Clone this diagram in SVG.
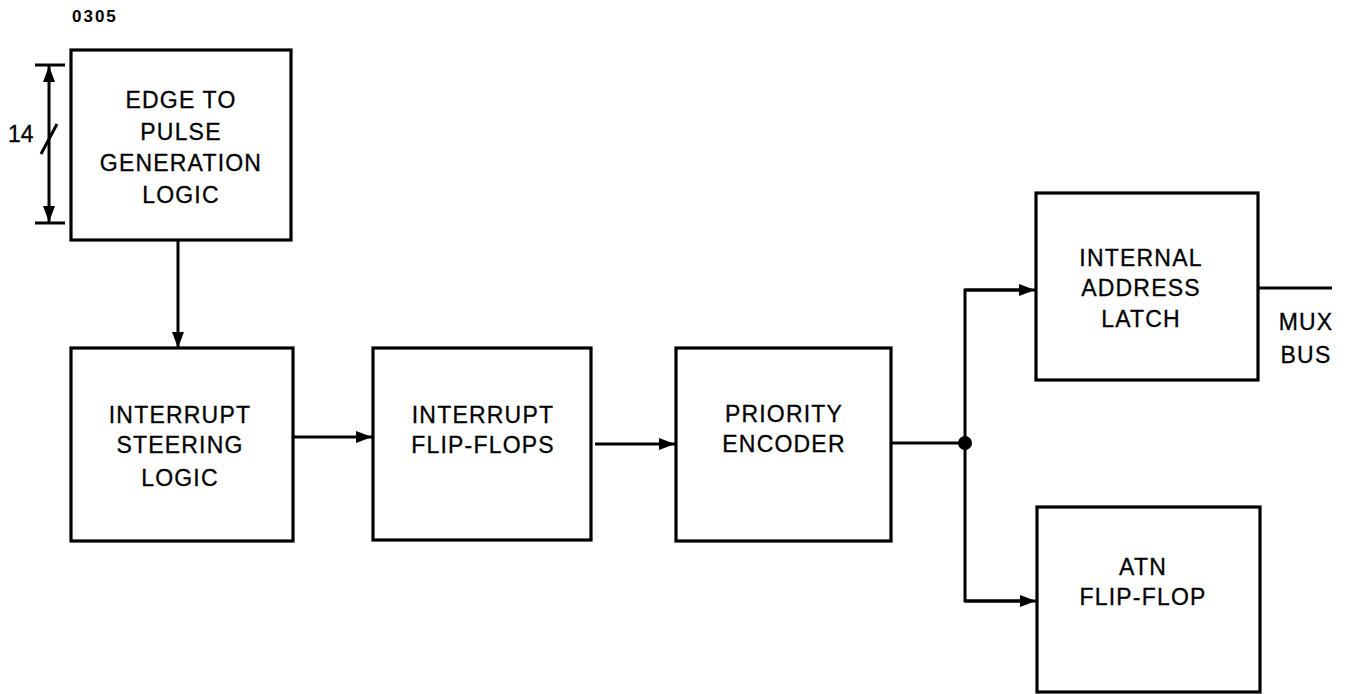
<svg xmlns="http://www.w3.org/2000/svg" width="1346" height="694" viewBox="0 0 1346 694">
<defs>
<style>
.box{fill:#fff;stroke:#000;stroke-width:3.2}
.ln{fill:none;stroke:#000;stroke-width:3}
.t{font-family:"Liberation Sans",Arial,sans-serif;font-size:23px;letter-spacing:1.2px;text-anchor:middle;fill:#000;stroke:#000;stroke-width:0.3}
.lbl{font-family:"Liberation Sans",Arial,sans-serif;font-size:23px;fill:#000;stroke:#000;stroke-width:0.3}
</style>
<marker id="ah" viewBox="0 0 16 12" refX="16" refY="6" markerWidth="16" markerHeight="12" markerUnits="userSpaceOnUse" orient="auto">
<path d="M0,0 L16,6 L0,12 Z" fill="#000"/>
</marker>
</defs>
<rect width="1346" height="694" fill="#fff"/>
<text x="72" y="22" font-family="Liberation Sans,Arial,sans-serif" font-weight="bold" font-size="17" letter-spacing="2">0305</text>

<g id="connectors">
<line class="ln" x1="49" y1="150" x2="49" y2="66" marker-end="url(#ah)"/>
<line class="ln" x1="49" y1="150" x2="49" y2="222" marker-end="url(#ah)"/>
<line class="ln" x1="35" y1="65" x2="65" y2="65"/>
<line class="ln" x1="35" y1="223" x2="65" y2="223"/>
<line class="ln" x1="41" y1="154" x2="57" y2="124"/>
<line class="ln" x1="178" y1="240" x2="178" y2="348" marker-end="url(#ah)"/>
<line class="ln" x1="293" y1="437" x2="372" y2="437" marker-end="url(#ah)"/>
<line class="ln" x1="595" y1="444" x2="675" y2="444" marker-end="url(#ah)"/>
<polyline class="ln" points="891,443 965,443"/>
<polyline class="ln" points="1020,290 965,290 965,601 1020,601"/>
<line class="ln" x1="965" y1="290" x2="1035" y2="290" marker-end="url(#ah)"/>
<line class="ln" x1="965" y1="601" x2="1036" y2="601" marker-end="url(#ah)"/>
<circle cx="965" cy="443" r="7" fill="#000"/>
<line class="ln" x1="1258" y1="288" x2="1332" y2="288"/>
</g>
<text class="lbl" x="8" y="142">14</text>

<g id="edge-to-pulse">
<rect class="box" x="71" y="50" width="220" height="190"/>
<text class="t" x="181" y="108">EDGE TO</text>
<text class="t" x="181" y="140">PULSE</text>
<text class="t" x="181" y="171">GENERATION</text>
<text class="t" x="181" y="203">LOGIC</text>
</g>

<g id="interrupt-steering">
<rect class="box" x="71" y="348" width="222" height="193"/>
<text class="t" x="180" y="423">INTERRUPT</text>
<text class="t" x="180" y="453">STEERING</text>
<text class="t" x="180" y="486">LOGIC</text>
</g>

<g id="interrupt-flipflops">
<rect class="box" x="373" y="348" width="218" height="192"/>
<text class="t" x="483" y="423">INTERRUPT</text>
<text class="t" x="483" y="453">FLIP-FLOPS</text>
</g>

<g id="priority-encoder">
<rect class="box" x="676" y="348" width="215" height="193"/>
<text class="t" x="784" y="422">PRIORITY</text>
<text class="t" x="784" y="452">ENCODER</text>
</g>

<g id="internal-address-latch">
<rect class="box" x="1036" y="193" width="222" height="187"/>
<text class="t" x="1141" y="266">INTERNAL</text>
<text class="t" x="1141" y="296">ADDRESS</text>
<text class="t" x="1141" y="327">LATCH</text>
</g>
<text class="t" x="1306" y="330">MUX</text>
<text class="t" x="1306" y="363">BUS</text>

<g id="atn-flipflop">
<rect class="box" x="1037" y="507" width="223" height="185"/>
<text class="t" x="1143" y="575">ATN</text>
<text class="t" x="1143" y="605">FLIP-FLOP</text>
</g>
</svg>
